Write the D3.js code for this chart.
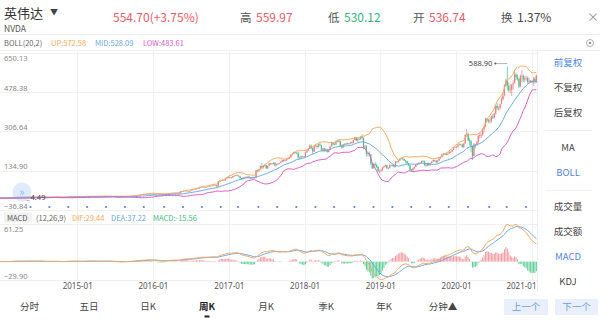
<!DOCTYPE html>
<html>
<head>
<meta charset="utf-8">
<script src="https://d3js.org/d3.v7.min.js"></script>
<style>
  body { margin: 0; background: #fff; }
  svg { display: block; font-family: "Noto Sans CJK SC", "Noto Sans", sans-serif; }
</style>
</head>
<body>
<svg id="chart" width="600" height="320"></svg>
<script>
// ----- weekly NVDA bars (Friday of each week, last bar = 2021-01-22) -----
const lastWeek = "2021-01-22";

const opens = [
  // 2013 (Aug-Dec)
  15.2,15.4,15.3,14.8,14.2,14.0,14.3,14.9,15.2,15.3,15.6,15.5,15.3,15.1,15.0,15.5,15.3,15.5,15.8,15.9,15.8,15.9,
  // 2014
  16.0,15.7,15.9,15.8,15.4, 15.7,16.3,17.2,17.6, 18.3,18.6,18.1,18.3, 17.9,17.6,17.3,18.0, 18.3,18.8,19.2,19.3,19.5, 19.1,18.9,18.8,18.9, 18.6,19.0,18.3,17.6, 17.4,17.4,17.5,19.3,19.7, 19.6,19.3,19.0,18.6, 18.5,18.2,17.0,17.6,18.5, 19.6,20.0,20.4,20.7, 21.0,20.9,20.1,20.4,
  // 2015
  20.6,20.1,19.9,19.6,20.3, 19.2,21.6,22.4,22.8, 23.2,22.1,21.3,21.9, 21.1,21.2,21.6,21.5, 22.7,22.1,22.0,22.4,22.3, 22.0,21.7,21.4,21.3, 20.6,20.2,19.8,20.0,19.6, 19.9,20.1,22.8,21.0, 22.3,22.1,23.5,24.1, 24.2,24.9,26.8,27.9,28.5, 28.4,31.5,29.6,30.8, 31.4,32.7,32.5,32.4,
  // 2016
  33.3,33.0,29.5,27.4,28.2, 29.3,27.5,27.2,29.5, 30.6,32.0,33.4,34.9, 35.3,35.8,36.4,36.1,35.6, 34.7,36.0,44.4,45.1, 46.6,46.8,46.5,45.9, 44.8,48.2,50.5,52.8,53.7, 57.1,57.6,62.0,61.9, 62.4,61.8,60.6,64.0,65.4, 68.5,67.9,69.4,70.5, 71.3,66.2,89.0,92.4, 94.2,92.2,92.6,100.4,105.5,
  // 2017
  106.7,103.2,104.8,111.5, 112.2,114.4,112.5,110.3, 101.2,98.5,104.2,106.4,103.3, 108.9,103.6,100.1,101.8, 104.1,104.2,135.9,134.5, 141.8,155.0,148.7,156.1,159.3, 144.6,156.0,166.0,166.4, 163.9,169.0,157.2,162.0, 164.8,168.0,173.9,181.0,176.7, 178.8,185.5,188.5,194.2, 204.7,209.0,215.0,214.1, 212.0,192.4,191.5,197.9,196.1,
  // 2018
  193.5,214.1,222.4,230.6, 243.3,232.9,218.0,241.5, 244.0,238.0,250.0,245.0,226.0, 231.6,222.0,226.6,215.6, 226.7,240.8,255.6,249.3, 248.0,263.5,262.0,265.0,243.3, 236.9,250.0,249.4,253.7, 251.9,254.0,258.4,255.0,268.8, 280.8,266.0,273.5,271.7, 281.0,276.5,237.0,240.7, 207.5,211.2,204.9,165.9,144.7, 163.8,158.7,150.8,133.5,
  // 2019
  133.5,136.2,149.0,153.2, 158.5,145.0,146.0,159.9, 157.7,159.0,150.5,174.6,172.6, 179.6,186.7,187.9,185.9, 178.7,176.5,166.7,157.4,137.6, 135.4,144.8,150.8,160.7, 164.2,168.2,169.0,177.2, 175.4,158.8,157.0,167.2,159.3, 167.8,175.0,181.1,178.5, 172.0,178.4,188.9,194.0, 205.6,209.2,207.7,204.6,210.1, 217.3,217.5,225.8,237.3,
  // 2020
  239.0,239.5,248.0,250.2,247.5, 236.9,253.3,291.5,296.2, 267.6,263.0,243.6,197.8, 249.4,248.0,258.0,286.4, 290.6,291.3,316.0,327.6,361.1, 355.2,351.3,352.0,371.0, 366.8,383.4,417.0,408.1,408.4, 424.6,445.7,462.6,507.8, 527.6,504.7,486.6,487.6, 510.0,516.3,553.7,542.5,535.0, 501.4,548.3,548.4,532.4, 537.4,538.6,521.9,526.1,
  // 2021
  519.8,524.0,536.0,520.0
];

const highs = [
  15.6,15.6,15.4,14.9,14.4,14.5,15.0,15.4,15.5,15.8,15.8,15.6,15.4,15.3,15.7,15.7,15.7,16.0,16.1,16.1,16.0,16.2,
  16.2,16.1,16.2,16.0,15.9, 16.5,17.4,17.8,18.5, 18.9,18.8,18.5,18.5, 18.1,17.8,18.2,18.5, 19.0,19.4,19.5,19.7,19.7, 19.3,19.1,19.1,19.1, 19.2,19.2,18.5,17.8, 17.6,17.7,19.5,19.9,19.9, 19.8,19.5,19.2,18.8, 18.7,18.4,17.8,18.7,19.8, 20.2,20.6,20.9,21.2, 21.3,21.1,20.6,20.8,
  20.9,20.4,20.2,20.6,20.5, 21.8,22.7,23.1,23.5, 23.4,22.3,22.2,22.1, 21.5,21.9,21.8,22.9, 22.9,22.4,22.6,22.6,22.5, 22.2,21.9,21.6,21.5, 20.8,20.4,20.3,20.2,20.1, 20.4,23.0,22.9,22.6, 22.6,23.7,24.4,24.5, 25.1,27.1,28.2,28.8,28.9, 31.8,31.6,31.1,31.7, 33.0,33.0,32.8,33.5,
  33.8,33.2,30.1,28.9,29.8, 29.5,28.4,29.9,31.0, 32.3,33.7,35.2,35.8, 36.1,36.8,36.9,36.5,35.9, 36.4,45.0,46.2,47.0, 47.4,47.5,46.8,46.3, 48.6,50.9,53.3,54.2,57.8, 58.3,62.8,62.5,63.0, 63.1,62.2,64.6,66.0,69.2, 69.5,70.2,71.3,72.4, 72.0,90.2,93.3,95.7, 96.1,94.0,101.8,107.2,108.8,
  108.3,106.2,113.0,114.6, 117.3,118.1,114.9,111.8, 104.0,106.0,108.5,108.1,109.5, 110.0,105.5,103.0,106.0, 106.2,138.0,137.9,143.0, 157.4,168.5,158.2,162.0,160.8, 157.1,167.4,168.8,168.0, 172.5,170.9,165.8,167.6, 170.0,175.5,183.6,183.3,180.5, 187.0,191.0,196.3,206.0, 210.7,217.8,217.0,214.8, 216.0,194.9,199.2,200.0,198.6,
  216.0,224.5,233.7,250.4, 248.5,236.0,243.9,250.0, 242.5,252.7,255.3,246.9,234.0, 235.5,231.5,229.5,228.8, 242.6,258.9,256.5,254.6, 266.0,269.2,271.0,265.2,248.8, 252.0,254.0,256.2,256.7, 255.8,260.4,260.9,270.2,282.0, 281.5,275.4,277.0,283.7, 292.8,280.0,248.0,245.5, 213.5,218.6,207.5,168.0,167.9, 173.6,165.2,155.5,140.0,
  140.1,150.6,155.3,161.7, 160.3,149.8,160.8,161.7, 162.0,160.1,175.4,176.3,181.6, 190.0,191.4,190.9,187.2, 182.1,176.0,168.1,159.0,141.9, 147.5,153.2,162.5,167.4, 170.4,172.8,178.1,180.8, 178.2,164.3,169.5,170.7,170.1, 175.8,183.3,182.4,180.0, 180.0,190.0,196.6,206.6, 212.0,211.4,212.1,211.1,218.5, 219.3,227.4,238.9,239.9,
  241.0,251.0,253.0,252.9,252.0, 255.0,293.0,316.3,298.0, 278.0,268.0,245.0,255.0, 252.0,266.0,290.5,297.0, 300.0,320.0,331.0,364.7,366.0, 360.0,364.0,375.0,381.5, 387.0,421.0,429.0,416.0,425.0, 455.0,474.0,512.0,536.0, 588.9,519.0,513.0,512.0, 529.0,574.0,562.0,555.0,540.0, 554.0,573.0,555.0,549.0, 549.0,546.0,540.0,530.0,
  530.0,544.0,542.0,555.0
];

const lows = [
  15.0,15.1,14.7,14.1,13.9,13.9,14.2,14.8,15.0,15.1,15.3,15.2,15.0,14.9,14.9,15.2,15.1,15.3,15.6,15.6,15.6,15.7,
  15.5,15.4,15.6,15.2,15.2, 15.5,16.1,17.0,17.4, 18.1,17.9,17.9,17.7, 17.4,17.1,17.1,17.8, 18.1,18.6,19.0,19.1,18.9, 18.7,18.6,18.6,18.4, 18.4,18.1,17.4,17.2, 17.1,17.2,17.3,19.1,19.4, 19.1,18.8,18.4,18.3, 17.9,16.8,16.8,17.4,18.3, 19.4,19.8,20.2,20.5, 20.7,19.9,19.9,20.2,
  19.8,19.6,19.3,19.4,19.0, 19.0,21.4,22.2,22.6, 21.9,21.1,21.1,20.9, 20.9,21.0,21.3,21.3, 21.9,21.8,21.8,22.1,21.8, 21.5,21.2,21.1,20.4, 20.0,19.6,19.6,19.4,19.4, 19.7,19.9,20.1,20.8, 21.9,21.9,23.3,23.9, 24.0,24.7,26.6,27.7,28.0, 28.2,29.3,29.4,30.6, 31.2,32.2,32.1,32.2,
  32.6,29.1,26.8,26.6,27.7, 27.0,26.6,26.9,29.1, 30.3,31.6,33.1,34.5, 34.9,35.3,35.5,35.1,34.4, 34.3,35.7,43.5,44.8, 46.1,45.9,45.2,44.0, 44.2,47.8,50.1,52.4,53.3, 56.6,57.0,61.2,61.3, 61.2,60.0,60.2,63.5,64.9, 67.3,67.2,68.8,70.0, 65.0,65.8,88.1,91.6, 90.5,91.0,92.0,99.6,102.0,
  101.4,100.0,103.4,109.7, 110.5,110.5,108.6,99.5, 95.2,97.3,102.2,101.8,102.3, 102.2,98.8,97.8,100.0, 100.5,102.5,130.2,131.0, 139.4,142.0,143.5,152.0,141.5, 142.0,154.3,159.5,160.0, 161.6,152.3,155.4,159.7, 162.5,166.6,171.5,173.0,175.0, 177.2,183.0,186.5,190.0, 201.5,206.0,209.5,207.3, 187.0,186.0,190.4,193.2,191.2,
  193.0,212.0,221.0,229.5, 228.0,207.0,216.5,238.1, 230.0,236.0,243.0,222.0,215.0, 217.0,218.0,213.5,214.4, 224.5,239.3,245.8,244.8, 246.5,258.0,258.5,241.0,230.9, 234.6,245.2,246.7,248.1, 247.2,251.4,252.0,254.5,267.5, 263.3,260.0,267.0,270.5, 271.0,228.5,230.0,195.5, 197.5,198.0,160.0,142.2,146.0, 154.0,147.1,130.0,124.5,
  131.2,133.4,144.5,150.8, 143.0,140.3,145.1,153.6, 153.0,148.3,150.0,166.5,169.8, 176.0,183.8,181.5,176.8, 167.2,164.0,155.0,136.2,131.2, 134.6,142.0,149.0,157.4, 162.0,164.9,166.4,173.0, 155.0,151.1,153.5,155.5,157.0, 166.0,173.0,173.6,166.8, 168.4,176.3,186.3,191.7, 201.0,203.0,201.5,203.0,208.5, 212.2,215.0,224.8,234.5,
  232.0,235.0,245.0,244.0,235.0, 233.0,251.0,288.0,264.0, 245.0,215.0,180.7,215.0, 232.0,245.0,252.0,275.0, 278.0,287.0,301.0,325.0,345.0, 342.0,340.0,344.0,360.0, 362.0,379.0,400.0,397.0,399.0, 425.0,440.0,459.0,500.0, 483.0,477.0,472.0,460.0, 488.0,515.0,530.0,528.0,495.0, 499.0,520.0,520.0,519.0, 527.0,513.0,515.0,517.0,
  515.0,505.0,515.0,518.0
];

const closes = [
  15.4,15.3,14.8,14.2,14.0,14.3,14.9,15.2,15.3,15.6,15.5,15.3,15.1,15.0,15.5,15.3,15.5,15.8,15.9,15.8,15.9,16.0,
  15.7,15.9,15.8,15.4,15.7, 16.3,17.2,17.6,18.3, 18.6,18.1,18.3,17.9, 17.6,17.3,18.0,18.3, 18.8,19.2,19.3,19.5,19.1, 18.9,18.8,18.9,18.6, 19.0,18.3,17.6,17.4, 17.4,17.5,19.3,19.7,19.6, 19.3,19.0,18.6,18.5, 18.2,17.0,17.6,18.5,19.6, 20.0,20.4,20.7,21.0, 20.9,20.1,20.4,20.6,
  20.1,19.9,19.6,20.3,19.2, 21.6,22.4,22.8,23.2, 22.1,21.3,21.9,21.1, 21.2,21.6,21.5,22.7, 22.1,22.0,22.4,22.3,22.0, 21.7,21.4,21.3,20.6, 20.2,19.8,20.0,19.6,19.9, 20.1,22.8,21.0,22.3, 22.1,23.5,24.1,24.2, 24.9,26.8,27.9,28.5,28.4, 31.5,29.6,30.8,31.4, 32.7,32.5,32.4,33.3,
  33.0,29.5,27.4,28.2,29.3, 27.5,27.2,29.5,30.6, 32.0,33.4,34.9,35.3, 35.8,36.4,36.1,35.6,34.7, 36.0,44.4,45.1,46.6, 46.8,46.5,45.9,44.8, 48.2,50.5,52.8,53.7,57.1, 57.6,62.0,61.9,62.4, 61.8,60.6,64.0,65.4,68.5, 67.9,69.4,70.5,71.3, 66.2,89.0,92.4,94.2, 92.2,92.6,100.4,105.5,106.7,
  103.2,104.8,111.5,112.2, 114.4,112.5,110.3,101.2, 98.5,104.2,106.4,103.3,108.9, 103.6,100.1,101.8,104.1, 104.2,135.9,134.5,141.8, 155.0,148.7,156.1,159.3,144.6, 156.0,166.0,166.4,163.9, 169.0,157.2,162.0,164.8, 168.0,173.9,181.0,176.7,178.8, 185.5,188.5,194.2,204.7, 209.0,215.0,214.1,212.0, 192.4,191.5,197.9,196.1,193.5,
  214.1,222.4,230.6,243.3, 232.9,218.0,241.5,244.0, 238.0,250.0,245.0,226.0,231.6, 222.0,226.6,215.6,226.7, 240.8,255.6,249.3,248.0, 263.5,262.0,265.0,243.3,236.9, 250.0,249.4,253.7,251.9, 254.0,258.4,255.0,268.8,280.8, 266.0,273.5,271.7,281.0, 276.5,237.0,240.7,207.5, 211.2,204.9,165.9,144.7,163.8, 158.7,150.8,133.5,133.5,
  136.2,149.0,153.2,158.5, 145.0,146.0,159.9,157.7, 159.0,150.5,174.6,172.6,179.6, 186.7,187.9,185.9,178.7, 176.5,166.7,157.4,137.6,135.4, 144.8,150.8,160.7,164.2, 168.2,169.0,177.2,175.4, 158.8,157.0,167.2,159.3,167.8, 175.0,181.1,178.5,172.0, 178.4,188.9,194.0,205.6, 209.2,207.7,204.6,210.1,217.3, 217.5,225.8,237.3,239.0,
  239.5,248.0,250.2,247.5,236.9, 253.3,291.5,296.2,267.6, 263.0,243.6,197.8,249.4, 248.0,258.0,286.4,290.6, 291.3,316.0,327.6,361.1,355.2, 351.3,352.0,371.0,366.8, 383.4,417.0,408.1,408.4,424.6, 445.7,462.6,507.8,527.6, 504.7,486.6,487.6,510.0, 516.3,553.7,542.5,535.0,501.4, 548.3,548.4,532.4,537.4, 538.6,521.9,526.1,519.8,
  522.2,533.5,519.8,548.6
];

// quarterly ex-dividend dates (blue dots under the price panel)
const dividendDates = [
  "2014-05-21","2014-08-20","2014-11-19","2015-02-18","2015-05-20","2015-08-19","2015-11-18",
  "2016-02-24","2016-05-25","2016-08-24","2016-11-23","2017-02-14","2017-05-23","2017-08-22",
  "2017-11-22","2018-02-22","2018-05-23","2018-08-29","2018-11-29","2019-02-28","2019-05-30",
  "2019-08-29","2019-11-27","2020-02-27","2020-06-09","2020-09-01","2020-12-03"
];

const priceTicks = [650.13, 478.38, 306.64, 134.90, -36.84];
const macdTicks = [61.25, -29.90];
const yearTicks = ["2015-01","2016-01","2017-01","2018-01","2019-01","2020-01","2021-01"];
const lowMark = ["2014-05-02", 4.49];

const quoteLabels = ["高", "低", "开", "换"];
const quoteValues = ["559.97", "530.12", "536.74", "1.37%"];
const bollLegend = ["BOLL(20,2)", "UP:572.58", "MID:528.09", "LOW:483.61"];
const macdLegend = ["(12,26,9)", "DIF:29.44", "DEA:37.22", "MACD:-15.56"];
const sideMenu = ["前复权", "不复权", "后复权", "MA", "BOLL", "成交量", "成交额", "MACD", "KDJ"];
const periodTabs = ["分时", "五日", "日K", "周K", "月K", "季K", "年K", "分钟▲"];

// ----- colours -----
const RED = "#ef5a68", GREEN = "#2fb67e", BLUE = "#4f86e6";
const C_UP = "#f6a85c", C_MID = "#6aa8e3", C_LOW = "#dc5cc6";

const svg = d3.select("#chart");
const parseDay = d3.timeParse("%Y-%m-%d");
const parseMonth = d3.timeParse("%Y-%m");

const last = parseDay(lastWeek);
const bars = closes.map((c, i) => ({
  date: d3.timeFriday.offset(last, i - (closes.length - 1)),
  o: opens[i], h: highs[i], l: lows[i], c: c
}));

// indicators: BOLL(20,2) and MACD(12,26,9) from weekly closes
bars.forEach((b, i) => {
  if (i >= 19) {
    const win = closes.slice(i - 19, i + 1);
    const m = d3.mean(win);
    const sd = Math.sqrt(d3.mean(win, v => (v - m) * (v - m)));
    b.mid = m; b.up = m + 2 * sd; b.low = m - 2 * sd;
  }
});
let e12 = closes[0], e26 = closes[0], dea = 0;
bars.forEach((b, i) => {
  e12 = e12 * 11 / 13 + b.c * 2 / 13;
  e26 = e26 * 25 / 27 + b.c * 2 / 27;
  b.dif = e12 - e26;
  dea = dea * 8 / 10 + b.dif * 2 / 10;
  b.dea = dea;
  b.hist = 2 * (b.dif - b.dea);
});

// ----- scales -----
const plotRight = 537;
const x = d3.scaleTime()
  .domain([parseDay("2013-12-25"), parseDay("2021-01-25")])
  .range([0, plotRight]);
const y = d3.scaleLinear().domain([-36.84, 650.13]).range([210, 52.5]);
const ym = d3.scaleLinear().domain([-29.90, 61.25]).range([280, 224]);

const defs = svg.append("defs");
defs.append("clipPath").attr("id", "clipMain")
  .append("rect").attr("x", 0).attr("y", 50).attr("width", plotRight).attr("height", 161);
defs.append("clipPath").attr("id", "clipMacd")
  .append("rect").attr("x", 0).attr("y", 224).attr("width", plotRight).attr("height", 56);

// ----- header -----
const head = svg.append("g");
head.append("text").attr("x", 4).attr("y", 18).attr("font-size", 13).attr("fill", "#333").text("英伟达");
head.append("text").attr("x", 50).attr("y", 15).attr("font-size", 8).attr("fill", "#444").text("▼");
head.append("text").attr("x", 4).attr("y", 31.5).attr("font-size", 8.5).attr("fill", "#555").text("NVDA");
head.append("text").attr("x", 113).attr("y", 21.5).attr("font-size", 12).attr("fill", RED).text("554.70(+3.75%)");
const quoteX = [240, 328, 413, 501];
const quoteColors = [RED, GREEN, RED, "#444"];
quoteLabels.forEach((lab, i) => {
  head.append("text").attr("x", quoteX[i]).attr("y", 21.5).attr("font-size", 11.5).attr("fill", "#555").text(lab);
  head.append("text").attr("x", quoteX[i] + 16).attr("y", 21.5).attr("font-size", 12).attr("fill", quoteColors[i]).text(quoteValues[i]);
});
head.append("text").attr("x", 587).attr("y", 21.5).attr("font-size", 12).attr("fill", "#999").text("×");
svg.append("line").attr("x1", 0).attr("x2", 600).attr("y1", 34.5).attr("y2", 34.5).attr("stroke", "#eee");

// BOLL legend row
const bollX = [4, 51, 95, 143];
const bollColors = ["#666", C_UP, C_MID, C_LOW];
bollLegend.forEach((t, i) => {
  svg.append("text").attr("x", bollX[i]).attr("y", 46).attr("font-size", 7.5).attr("fill", bollColors[i]).text(t);
});
svg.append("circle").attr("cx", 590).attr("cy", 43).attr("r", 3.5).attr("fill", "none").attr("stroke", "#999").attr("stroke-width", 0.8);
svg.append("circle").attr("cx", 590).attr("cy", 43).attr("r", 1.3).attr("fill", "#999");
svg.append("line").attr("x1", 0).attr("x2", 600).attr("y1", 50.5).attr("y2", 50.5).attr("stroke", "#f0f0f0");

// ----- grid -----
const grid = svg.append("g").attr("stroke", "#f0f0f0").attr("stroke-width", 1);
grid.selectAll(".hg").data(priceTicks).join("line")
  .attr("x1", 0).attr("x2", plotRight)
  .attr("y1", d => Math.round(y(d)) + 0.5).attr("y2", d => Math.round(y(d)) + 0.5);
grid.selectAll(".hm").data(macdTicks).join("line")
  .attr("x1", 0).attr("x2", plotRight)
  .attr("y1", d => Math.round(ym(d)) + 0.5).attr("y2", d => Math.round(ym(d)) + 0.5);
const yearDates = yearTicks.map(parseMonth);
grid.selectAll(".vg").data(yearDates).join("line")
  .attr("x1", d => Math.round(x(d)) + 0.5).attr("x2", d => Math.round(x(d)) + 0.5)
  .attr("y1", 51).attr("y2", 280);
svg.append("line").attr("x1", plotRight + 0.5).attr("x2", plotRight + 0.5)
  .attr("y1", 51).attr("y2", 292).attr("stroke", "#eee");

// ----- price axis labels -----
const yAxis = svg.append("g").attr("transform", "translate(4,0)")
  .call(d3.axisRight(y).tickValues(priceTicks).tickSize(0).tickPadding(0).tickFormat(d3.format(".2f")));
yAxis.select(".domain").remove();
yAxis.selectAll("text").attr("font-size", 7.5).attr("fill", "#888")
  .attr("font-family", "'Noto Sans', sans-serif")
  .attr("dy", (d, i) => i === 0 ? "1.05em" : "-0.25em");

// ----- candles -----
const main = svg.append("g").attr("clip-path", "url(#clipMain)");
const candle = main.selectAll(".c").data(bars).join("g");
candle.append("line")
  .attr("x1", d => x(d.date)).attr("x2", d => x(d.date))
  .attr("y1", d => y(Math.max(d.h, d.o, d.c))).attr("y2", d => y(Math.min(d.l, d.o, d.c)))
  .attr("stroke", d => d.c >= d.o ? "#f27c84" : "#43c28d").attr("stroke-width", 0.7);
candle.append("rect")
  .attr("x", d => x(d.date) - 0.6).attr("width", 1.2)
  .attr("y", d => y(Math.max(d.o, d.c)))
  .attr("height", d => Math.max(0.6, Math.abs(y(d.o) - y(d.c))))
  .attr("fill", d => d.c >= d.o ? "#f27c84" : "#43c28d");

const bollBars = bars.filter(b => b.mid !== undefined);
[["up", C_UP], ["mid", C_MID], ["low", C_LOW]].forEach(([k, col]) => {
  main.append("path").datum(bollBars)
    .attr("fill", "none").attr("stroke", col).attr("stroke-width", 1)
    .attr("d", d3.line().x(d => x(d.date)).y(d => y(d[k])));
});

// max / min markers
const maxBar = bars[d3.maxIndex(bars, d => d.h)];
const mx = x(maxBar.date), my = y(maxBar.h) - 3;
svg.append("line").attr("x1", mx - 12).attr("x2", mx).attr("y1", my).attr("y2", my).attr("stroke", "#888").attr("stroke-width", 0.6);
svg.append("circle").attr("cx", mx - 12).attr("cy", my).attr("r", 1).attr("fill", "#555");
svg.append("text").attr("x", mx - 15).attr("y", my).attr("dy", "0.35em").attr("text-anchor", "end")
  .attr("font-size", 7.5).attr("fill", "#444").attr("font-family", "'Noto Sans', sans-serif")
  .text(d3.format(".2f")(maxBar.h));
const lx = x(parseDay(lowMark[0])), ly = y(lowMark[1]);
svg.append("line").attr("x1", lx).attr("x2", lx + 3).attr("y1", ly).attr("y2", ly).attr("stroke", "#888").attr("stroke-width", 0.6);
svg.append("text").attr("x", lx + 4).attr("y", ly - 1).attr("font-size", 7.5).attr("fill", "#444")
  .attr("font-family", "'Noto Sans', sans-serif").text(d3.format(".2f")(lowMark[1]));

// dividend dots
svg.append("g").selectAll("circle").data(dividendDates.map(parseDay)).join("circle")
  .attr("cx", d => x(d)).attr("cy", 207).attr("r", 1.1).attr("fill", "#5b82d6");

// collapse button
svg.append("circle").attr("cx", 22).attr("cy", 192).attr("r", 9.5).attr("fill", "rgba(110,160,235,0.22)");
svg.append("text").attr("x", 22).attr("y", 192).attr("dy", "0.35em").attr("text-anchor", "middle")
  .attr("font-size", 11).attr("fill", "#8fb5ee").text("»");

// ----- MACD panel -----
svg.append("rect").attr("x", 4).attr("y", 212.5).attr("width", 28).attr("height", 10).attr("fill", "#f1f1f1");
svg.append("text").attr("x", 7).attr("y", 220.5).attr("font-size", 7.5).attr("fill", "#555").text("MACD");
const macdX = [36, 72, 111, 153];
const macdColors = ["#666", C_UP, C_MID, "#3dbb7c"];
macdLegend.forEach((t, i) => {
  svg.append("text").attr("x", macdX[i]).attr("y", 220.5).attr("font-size", 7.5).attr("fill", macdColors[i]).text(t);
});
const mAxis = svg.append("g").attr("transform", "translate(4,0)")
  .call(d3.axisRight(ym).tickValues(macdTicks).tickSize(0).tickPadding(0).tickFormat(d3.format(".2f")));
mAxis.select(".domain").remove();
mAxis.selectAll("text").attr("font-size", 7.5).attr("fill", "#888")
  .attr("font-family", "'Noto Sans', sans-serif")
  .attr("dy", (d, i) => i === 0 ? "1.05em" : "-0.25em");

const macd = svg.append("g").attr("clip-path", "url(#clipMacd)");
macd.selectAll("rect").data(bars).join("rect")
  .attr("x", d => x(d.date) - 0.5).attr("width", 1)
  .attr("y", d => Math.min(ym(0), ym(d.hist)))
  .attr("height", d => Math.abs(ym(d.hist) - ym(0)))
  .attr("fill", d => d.hist >= 0 ? "#f39aa1" : "#5fcf97");
macd.append("path").datum(bars).attr("fill", "none").attr("stroke", C_MID).attr("stroke-width", 1)
  .attr("d", d3.line().x(d => x(d.date)).y(d => ym(d.dea)));
macd.append("path").datum(bars).attr("fill", "none").attr("stroke", C_UP).attr("stroke-width", 1)
  .attr("d", d3.line().x(d => x(d.date)).y(d => ym(d.dif)));

// ----- time axis -----
const xAxis = svg.append("g").attr("transform", "translate(0,283)")
  .call(d3.axisBottom(x).tickValues(yearDates).tickSize(0).tickPadding(0).tickFormat(d3.timeFormat("%Y-%m")));
xAxis.select(".domain").remove();
xAxis.selectAll("text").attr("font-size", 8).attr("fill", "#555").attr("dy", "0.7em")
  .attr("font-family", "'Noto Sans', sans-serif");
xAxis.selectAll(".tick").each(function (d) {
  const t = d3.select(this).select("text");
  const w = t.node().getComputedTextLength();
  if (x(d) + w / 2 > plotRight - 1) t.attr("text-anchor", "end").attr("x", plotRight - 1 - x(d));
});

// ----- side menu -----
const sideY = [63, 88, 113, 148, 173, 207, 232, 257, 282];
const sideActive = ["前复权", "BOLL", "MACD"];
sideMenu.forEach((t, i) => {
  svg.append("text").attr("x", 568).attr("y", sideY[i]).attr("dy", "0.35em").attr("text-anchor", "middle")
    .attr("font-size", 9.5).attr("fill", sideActive.includes(t) ? BLUE : "#444").text(t);
});
[130.5, 190.5].forEach(v => {
  svg.append("line").attr("x1", 545).attr("x2", 592).attr("y1", v).attr("y2", v).attr("stroke", "#f0f0f0");
});

// ----- period tabs -----
const tabX = [29.5, 89, 148, 207, 266, 326, 384, 443];
periodTabs.forEach((t, i) => {
  svg.append("text").attr("x", tabX[i]).attr("y", 307).attr("dy", "0.35em").attr("text-anchor", "middle")
    .attr("font-size", 9.5).attr("font-weight", t === "周K" ? "bold" : "normal")
    .attr("fill", t === "周K" ? "#222" : "#444").text(t);
});
svg.append("rect").attr("x", 204.5).attr("y", 315.5).attr("width", 5).attr("height", 2).attr("fill", "#222");

const btns = [["上一个", 504, 44], ["下一个", 555, 43]];
btns.forEach(([t, bx, bw]) => {
  svg.append("rect").attr("x", bx).attr("y", 299).attr("width", bw).attr("height", 16).attr("fill", "#e9f0fc");
  svg.append("text").attr("x", bx + bw / 2).attr("y", 307).attr("dy", "0.35em").attr("text-anchor", "middle")
    .attr("font-size", 9.5).attr("fill", "#6f9be6").text(t);
});
</script>
</body>
</html>
